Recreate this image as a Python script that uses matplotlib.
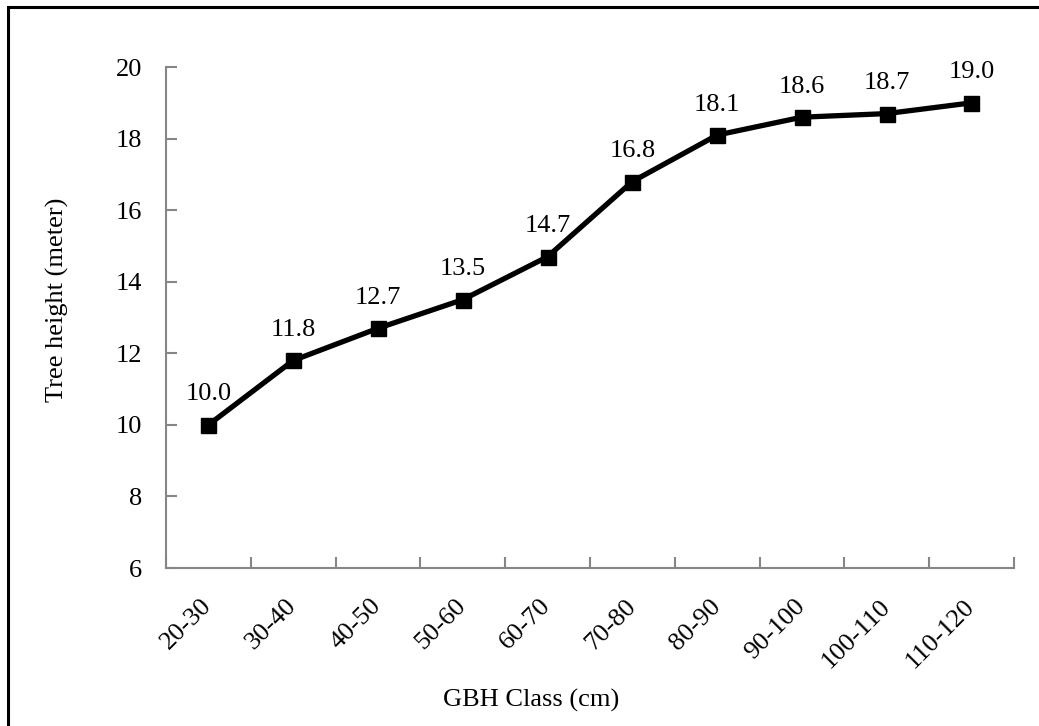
import matplotlib.pyplot as plt
from matplotlib.patches import Rectangle
import numpy as np

plt.rcParams['font.family'] = ['Liberation Serif', 'DejaVu Serif']

# Data
gbh_class = ['20-30', '30-40', '40-50', '50-60', '60-70',
             '70-80', '80-90', '90-100', '100-110', '110-120']
tree_height = [10.0, 11.8, 12.7, 13.5, 14.7, 16.8, 18.1, 18.6, 18.7, 19.0]
y_ticks = [6, 8, 10, 12, 14, 16, 18, 20]

fig = plt.figure(figsize=(10.39, 7.26), dpi=100)
ax = fig.add_axes([0.1598, 0.2176, 0.816, 0.69])

x = np.arange(len(gbh_class))
ax.plot(x, tree_height, color='black', lw=3.8, marker='s', ms=10.8,
        solid_joinstyle='miter')

for xi, yi in zip(x, tree_height):
    ax.annotate(f'{yi:.1f}', (xi, yi), xytext=(0, 14), textcoords='offset points',
                ha='center', va='bottom', fontsize=19)

ax.set_xlim(-0.5, len(gbh_class) - 0.5)
ax.set_ylim(6, 20)
ax.set_yticks(y_ticks)
ax.set_xticks(x)
ax.set_xticklabels(gbh_class, rotation=45, ha='right', va='center',
                   rotation_mode='anchor', fontsize=19)
ax.set_xticks(np.arange(len(gbh_class) + 1) - 0.5, minor=True)
ax.tick_params(axis='x', which='major', length=0, pad=25)
ax.tick_params(axis='x', which='minor', length=8, width=1.5,
               direction='in', color='#868686')
ax.tick_params(axis='y', length=8, width=1.5, direction='in',
               color='#868686', pad=17, labelsize=19)

for s in ['top', 'right']:
    ax.spines[s].set_visible(False)
for s in ['left', 'bottom']:
    ax.spines[s].set_color('#868686')
    ax.spines[s].set_linewidth(1.5)

fig.text(57 / 1039, 1 - 300 / 726, 'Tree height (meter)', rotation=90,
         ha='center', va='center', fontsize=19)
fig.text(531 / 1039, 1 - 700 / 726, 'GBH Class (cm)',
         ha='center', va='center', fontsize=19)

# outer frame (only left and top edges fall inside the image)
fig.patches.append(Rectangle((8 / 1039, -0.1), 1.2, 1 - 7 / 726 + 0.1,
                             transform=fig.transFigure, fill=False,
                             edgecolor='black', lw=2.2))

fig.savefig('out.png', dpi=100)
